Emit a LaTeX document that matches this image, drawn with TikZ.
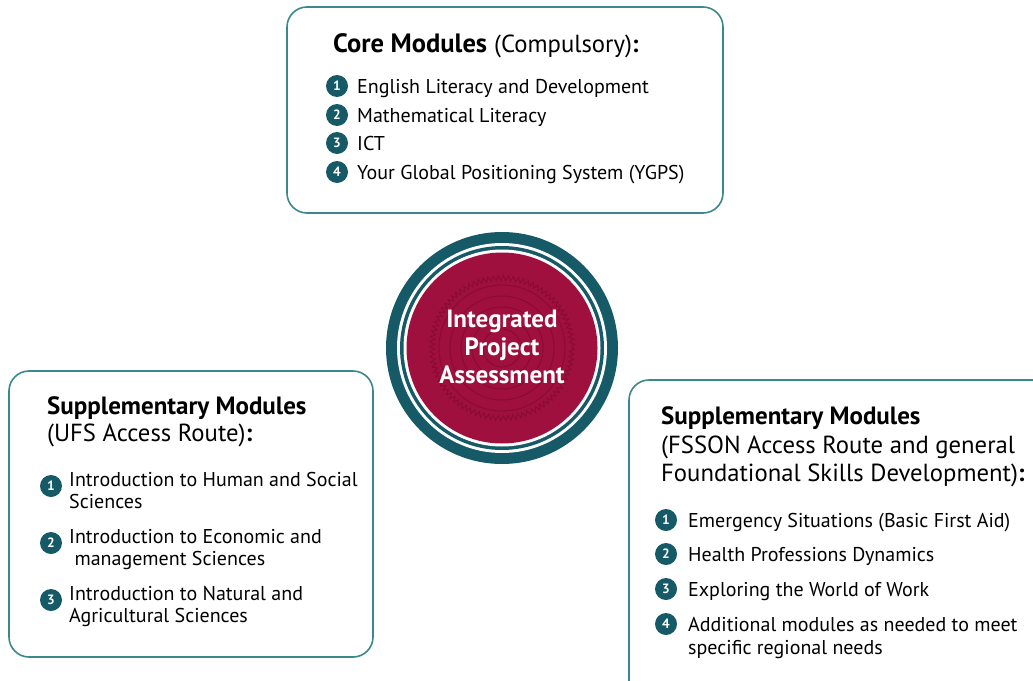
\documentclass[tikz,border=0pt]{standalone}
\usepackage{fontspec}
\setmainfont{PT Sans}
\usetikzlibrary{decorations.pathmorphing}
\definecolor{boxline}{HTML}{3A878C}
\definecolor{tealdark}{HTML}{155A66}
\definecolor{crimson}{HTML}{A0103E}
\definecolor{crimsondark}{HTML}{880A35}
\tikzset{
  panel/.style={draw=boxline, line width=1.6pt, rounded corners=20pt},
  bullet/.style={circle, fill=tealdark, inner sep=0pt, minimum size=22pt, text=white, font=\fontsize{13.5}{13.5}\selectfont\bfseries},
  itemtxt/.style={anchor=base west, inner sep=0pt, font=\fontsize{20}{20}\selectfont},
  titletxt/.style={anchor=base west, inner sep=0pt, font=\fontsize{24.7}{24.7}\selectfont},
  boldtitle/.style={anchor=base west, inner sep=0pt, font=\fontsize{26.5}{26.5}\selectfont\bfseries},
  centretxt/.style={align=center, text=white, font=\fontsize{25}{28}\selectfont\bfseries}
}
\begin{document}
\begin{tikzpicture}[x=1pt,y=-1pt]
\useasboundingbox (0,0) rectangle (1033,680);
% panels
\draw[panel] (287,7) rectangle (723,213);
\draw[panel] (9,371) rectangle (373,657);
\begin{scope}
\clip (0,0) rectangle (1033,680);
\draw[panel] (629,380) rectangle (1060,720);
\end{scope}
% centre emblem
\coordinate (ctr) at (502,348);
\fill[tealdark] (ctr) circle (116);
\fill[white] (ctr) circle (105);
\fill[tealdark] (ctr) circle (102);
\fill[white] (ctr) circle (98.5);
\fill[crimson] (ctr) circle (95.5);
\begin{scope}[draw=crimsondark, line width=0.9pt]
\draw[decorate, decoration={zigzag, segment length=5pt, amplitude=2.5pt}] (ctr) circle (70);
\draw (ctr) circle (63);
\draw (ctr) circle (52);
\draw (ctr) circle (41);
\draw (ctr) circle (30);
\draw (ctr) circle (19);
\end{scope}
\node[centretxt] (ipa) at (502,347) {Integrated\\Project\\Assessment};
% top panel
\node[boldtitle] (coreT) at (333,52) {Core Modules};
\node[titletxt] (coreT2) at (coreT.base east) {\ (Compulsory)\textbf{:}};
\node[bullet] (c1) at (337,86) {1};
\node[itemtxt] (ct1) at (357,93) {English Literacy and Development};
\node[bullet] (c2) at (337,115) {2};
\node[itemtxt] (ct2) at (357,122) {Mathematical Literacy};
\node[bullet] (c3) at (337,143) {3};
\node[itemtxt] (ct3) at (357,150) {ICT};
\node[bullet] (c4) at (337,172) {4};
\node[itemtxt] (ct4) at (357,179) {Your Global Positioning System (YGPS)};
% left panel
\node[boldtitle, font=\fontsize{25}{25}\selectfont\bfseries] (ufsT1) at (47,414) {Supplementary Modules};
\node[titletxt] (ufsT2) at (47,441) {(UFS Access Route)\textbf{:}};
\node[bullet] (u1) at (51,486) {1};
\node[itemtxt] (ut1a) at (69,486) {Introduction to Human and Social};
\node[itemtxt] (ut1b) at (69,508) {Sciences};
\node[bullet] (u2) at (51,543) {2};
\node[itemtxt] (ut2a) at (69,543) {Introduction to Economic and};
\node[itemtxt] (ut2b) at (69,565) {\ management Sciences};
\node[bullet] (u3) at (51,600) {3};
\node[itemtxt] (ut3a) at (69,600) {Introduction to Natural and};
\node[itemtxt] (ut3b) at (69,622) {Agricultural Sciences};
% right panel
\node[boldtitle, font=\fontsize{25}{25}\selectfont\bfseries] (fsT1) at (661,424) {Supplementary Modules};
\node[titletxt] (fsT2) at (661,453) {(FSSON Access Route and general};
\node[titletxt] (fsT3) at (661,481) {Foundational Skills Development)\textbf{:}};
\node[bullet] (f1) at (666,520) {1};
\node[itemtxt] (ft1) at (688,527) {Emergency Situations (Basic First Aid)};
\node[bullet] (f2) at (666,554) {2};
\node[itemtxt] (ft2) at (688,561) {Health Professions Dynamics};
\node[bullet] (f3) at (666,589) {3};
\node[itemtxt] (ft3) at (688,596) {Exploring the World of Work};
\node[bullet] (f4) at (666,624) {4};
\node[itemtxt] (ft4a) at (688,631) {Additional modules as needed to meet};
\node[itemtxt] (ft4b) at (688,654) {specific regional needs};
\end{tikzpicture}
\end{document}
